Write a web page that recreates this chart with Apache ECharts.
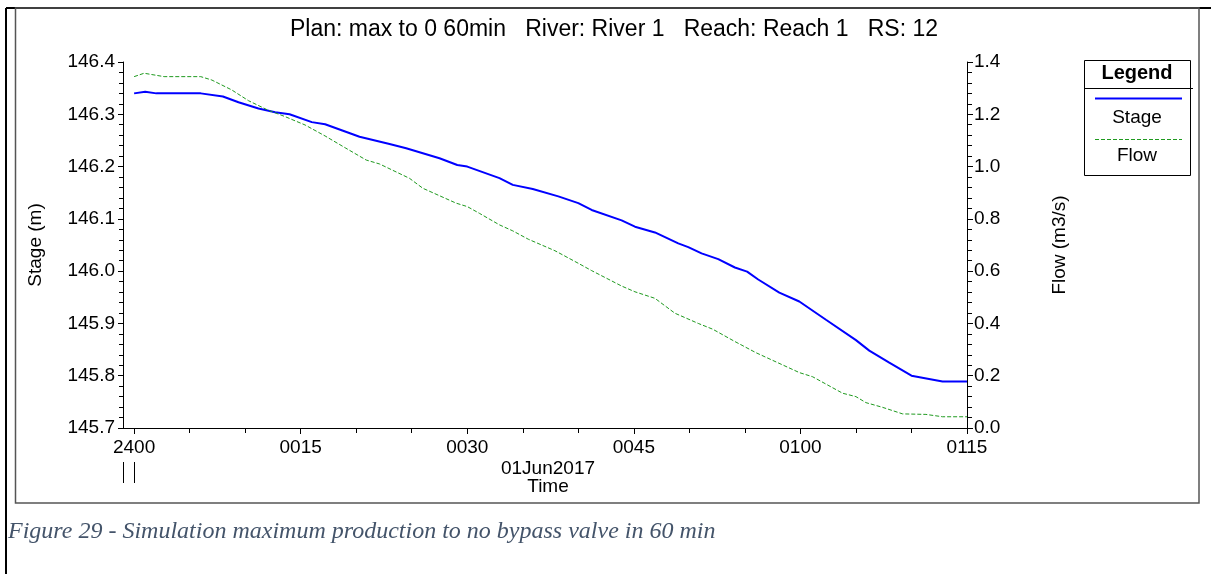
<!DOCTYPE html>
<html>
<head>
<meta charset="utf-8">
<title>Stage / Flow - RS 12</title>
<script src="https://cdn.jsdelivr.net/npm/echarts@6/dist/echarts.min.js"></script>
<style>
  html, body { margin: 0; padding: 0; background: #fff; }
  #chart { width: 1211px; height: 574px; }
</style>
</head>
<body>
<div id="chart"></div>
<script>
// minutes after 2400 (01Jun2017) and values
var stageTimes = [0, 1, 2, 6, 8, 9.4, 11.2, 12.7, 14, 16, 17.2, 19, 20.3, 23, 24.5, 27.5, 29.1, 30,
  32.9, 34.1, 35.9, 38.2, 40, 41.2, 43.9, 45.1, 46.9, 49, 49.9, 51.1, 52.6, 54.1, 55.2, 56.2,
  58.1, 59.9, 62.3, 65, 66.2, 68, 70, 72.8, 75];
var stageValues = [146.340, 146.343, 146.340, 146.340, 146.334, 146.323, 146.311, 146.304, 146.300,
  146.285, 146.281, 146.267, 146.257, 146.243, 146.235, 146.216, 146.203, 146.200, 146.178, 146.165,
  146.157, 146.143, 146.130, 146.117, 146.097, 146.085, 146.074, 146.053, 146.046, 146.034, 146.023,
  146.007, 145.999, 145.984, 145.959, 145.942, 145.907, 145.868, 145.848, 145.825, 145.800, 145.789,
  145.789];

var flowTimes = [0, 0.9, 2.7, 6, 7, 8.8, 10.3, 12, 13.6, 15.4, 17.2, 19, 20.9, 22.1, 24.8, 26, 29, 30,
  31.1, 32.9, 34.1, 35.5, 37.9, 40, 41.2, 43.9, 45.1, 46.9, 48.7, 50.8, 52.1, 54, 56, 59.9, 61.1,
  63.8, 65, 65.9, 67.4, 69.2, 71.3, 72.8, 75];
var flowValues = [1.344, 1.357, 1.344, 1.344, 1.331, 1.293, 1.252, 1.217, 1.191, 1.159, 1.117, 1.072,
  1.025, 1.010, 0.955, 0.917, 0.860, 0.847, 0.821, 0.777, 0.754, 0.722, 0.678, 0.630, 0.602, 0.543,
  0.521, 0.496, 0.439, 0.400, 0.378, 0.333, 0.288, 0.212, 0.196, 0.133, 0.120, 0.097, 0.079, 0.054,
  0.052, 0.043, 0.043];

var majorTicks = [0, 15, 30, 45, 60, 75];
var majorLabels = ["2400", "0015", "0030", "0045", "0100", "0115"];
var minorTicks = [5, 10, 20, 25, 35, 40, 50, 55, 65, 70];

var font = "Liberation Sans, Arial, sans-serif";

function pairs(xs, ys) {
  var out = [];
  for (var i = 0; i < xs.length; i++) {
    out.push([xs[i], ys[i]]);
  }
  return out;
}

var myChart = echarts.init(document.getElementById("chart"));

var options = {
  animation: false,
  backgroundColor: "#fff",
  textStyle: { fontFamily: font, color: "#000" },
  title: {
    text: "Plan: max to 0 60min   River: River 1   Reach: Reach 1   RS: 12",
    left: 609,
    top: 13,
    textAlign: "center",
    textStyle: { fontFamily: font, fontSize: 23, fontWeight: "normal", color: "#000" }
  },
  grid: { left: 123, right: 244, top: 62, bottom: 146 },
  xAxis: [
    {
      type: "value",
      min: -1,
      max: 75,
      position: "bottom",
      splitLine: { show: false },
      axisLine: { onZero: false, lineStyle: { color: "#000", width: 1 } },
      axisTick: { customValues: majorTicks, length: 6, lineStyle: { color: "#000" } },
      axisLabel: {
        customValues: majorTicks,
        margin: 10,
        fontSize: 19,
        color: "#000",
        fontFamily: font,
        formatter: function(v) {
          return majorLabels[majorTicks.indexOf(v)];
        }
      }
    },
    {
      // only carries the 5 minute ticks
      type: "value",
      min: -1,
      max: 75,
      position: "bottom",
      splitLine: { show: false },
      axisLine: { show: false, onZero: false },
      axisTick: { customValues: minorTicks, length: 5, lineStyle: { color: "#000" } },
      axisLabel: { show: false }
    }
  ],
  yAxis: [
    {
      type: "value",
      min: 145.7,
      max: 146.4,
      interval: 0.1,
      position: "left",
      name: "Stage (m)",
      nameLocation: "middle",
      nameGap: 78,
      nameTextStyle: { fontSize: 19, color: "#000", fontFamily: font },
      splitLine: { show: false },
      axisLine: { show: true, onZero: false, lineStyle: { color: "#000" } },
      axisTick: { show: true, length: 5, lineStyle: { color: "#000" } },
      minorTick: { show: true, splitNumber: 5, length: 4, lineStyle: { color: "#000" } },
      axisLabel: {
        margin: 8,
        fontSize: 19,
        color: "#000",
        fontFamily: font,
        formatter: function(v) { return v.toFixed(1); }
      }
    },
    {
      type: "value",
      min: 0,
      max: 1.4,
      interval: 0.2,
      position: "right",
      name: "Flow (m3/s)",
      nameLocation: "middle",
      nameGap: 83,
      nameTextStyle: { fontSize: 19, color: "#000", fontFamily: font },
      splitLine: { show: false },
      axisLine: { show: true, onZero: false, lineStyle: { color: "#000" } },
      axisTick: { show: true, length: 6, lineStyle: { color: "#000" } },
      minorTick: { show: true, splitNumber: 5, length: 5, lineStyle: { color: "#000" } },
      axisLabel: {
        margin: 7,
        fontSize: 19,
        color: "#000",
        fontFamily: font,
        formatter: function(v) { return v.toFixed(1); }
      }
    }
  ],
  series: [
    {
      name: "Stage",
      type: "line",
      xAxisIndex: 0,
      yAxisIndex: 0,
      showSymbol: false,
      symbol: "none",
      lineStyle: { color: "#0000ff", width: 2 },
      data: pairs(stageTimes, stageValues)
    },
    {
      name: "Flow",
      type: "line",
      xAxisIndex: 0,
      yAxisIndex: 1,
      showSymbol: false,
      symbol: "none",
      lineStyle: { color: "#1f9a1f", width: 1, type: [4, 2] },
      data: pairs(flowTimes, flowValues)
    }
  ],
  graphic: [
    // page frame
    { type: "line", shape: { x1: 6, y1: 8, x2: 1211, y2: 8 }, style: { stroke: "#000", lineWidth: 2 } },
    { type: "line", shape: { x1: 6, y1: 8, x2: 6, y2: 574 }, style: { stroke: "#000", lineWidth: 2 } },
    { type: "rect", shape: { x: 15.5, y: 8, width: 1183.5, height: 495 }, style: { fill: null, stroke: "#555", lineWidth: 1.5 } },
    // day break marks under 2400
    { type: "line", shape: { x1: 123.5, y1: 462, x2: 123.5, y2: 483 }, style: { stroke: "#000", lineWidth: 1 } },
    { type: "line", shape: { x1: 134.5, y1: 462, x2: 134.5, y2: 483 }, style: { stroke: "#000", lineWidth: 1 } },
    { type: "text", x: 548, y: 469, style: { text: "01Jun2017", font: "19px " + font, fill: "#000", textAlign: "center", textVerticalAlign: "middle" } },
    { type: "text", x: 548, y: 487, style: { text: "Time", font: "19px " + font, fill: "#000", textAlign: "center", textVerticalAlign: "middle" } },
    // legend box
    { type: "rect", shape: { x: 1084.5, y: 60.5, width: 106, height: 115 }, style: { fill: "#fff", stroke: "#000", lineWidth: 1 } },
    { type: "line", shape: { x1: 1084.5, y1: 88.5, x2: 1193, y2: 88.5 }, style: { stroke: "#000", lineWidth: 1 } },
    { type: "text", x: 1137, y: 73, style: { text: "Legend", font: "bold 20px " + font, fill: "#000", textAlign: "center", textVerticalAlign: "middle" } },
    { type: "line", shape: { x1: 1095, y1: 98.5, x2: 1182, y2: 98.5 }, style: { stroke: "#0000ff", lineWidth: 2 } },
    { type: "text", x: 1137, y: 118, style: { text: "Stage", font: "19px " + font, fill: "#000", textAlign: "center", textVerticalAlign: "middle" } },
    { type: "line", shape: { x1: 1095, y1: 139.5, x2: 1182, y2: 139.5 }, style: { stroke: "#1f9a1f", lineWidth: 1, lineDash: [4, 2] } },
    { type: "text", x: 1137, y: 156, style: { text: "Flow", font: "19px " + font, fill: "#000", textAlign: "center", textVerticalAlign: "middle" } },
    // caption
    { type: "text", x: 8, y: 532, style: { text: "Figure 29 - Simulation maximum production to no bypass valve in 60 min", font: "italic 24px Liberation Serif, Times New Roman, serif", fill: "#44546a", textAlign: "left", textVerticalAlign: "middle" } }
  ]
};

myChart.setOption(options);
window.addEventListener("resize", function() {
  myChart.resize();
});
</script>
</body>
</html>
